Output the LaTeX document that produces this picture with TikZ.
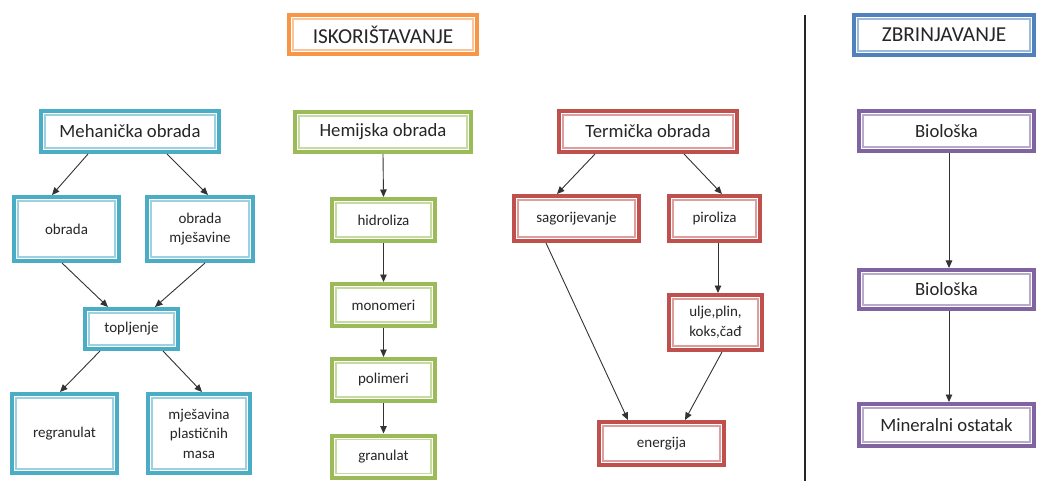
\documentclass[tikz,border=0pt]{standalone}
\usepackage{fontspec}
\setmainfont{Carlito}
\usetikzlibrary{arrows.meta,positioning}

\definecolor{tirkiz}{HTML}{4BACC6}
\definecolor{zelena}{HTML}{9BBB59}
\definecolor{crvena}{HTML}{C0504D}
\definecolor{ljubicasta}{HTML}{8064A2}
\definecolor{narandzasta}{HTML}{F79646}
\definecolor{plava}{HTML}{4F81BD}
\definecolor{tekst}{HTML}{262626}

\tikzset{
  % debeli okvir s tankom svijetlom linijom iznutra
  okvir/.style={draw=#1, line width=4pt, fill=white, inner sep=0pt, align=center, text=tekst,
    path picture={\draw[#1!55, line width=1.4pt]
      ([shift={(3.9pt,-3.9pt)}]path picture bounding box.north west) rectangle
      ([shift={(-3.9pt,3.9pt)}]path picture bounding box.south east);}},
  naslov/.style={font=\fontsize{21.3}{24}\selectfont},
  velik/.style={font=\fontsize{18.7}{22}\selectfont},
  mali/.style={font=\fontsize{15}{19.5}\selectfont},
  veza/.style={-{Triangle[length=7.5pt,width=6.5pt]}, draw=black!80, line width=0.9pt},
}

\begin{document}
\begin{tikzpicture}[x=1pt, y=-1pt]
  \useasboundingbox (0,0) rectangle (1039,481);

  % naslovi
  \node[okvir=narandzasta, naslov, minimum width=188pt, minimum height=39pt] (iskor) at (383,34.5) {ISKORIŠTAVANJE};
  \node[okvir=plava, naslov, minimum width=180pt, minimum height=40pt] (zbrin) at (944,35) {ZBRINJAVANJE};
  \draw[line width=1.8pt, black!85] (805,15) -- (805,481);

  % mehanička obrada
  \node[okvir=tirkiz, velik, minimum width=178pt, minimum height=41pt] (mehan) at (130,131.5) {Mehanička obrada};
  \node[okvir=tirkiz, mali, minimum width=105pt, minimum height=64pt] (obr) at (66.5,229) {obrada};
  \node[okvir=tirkiz, mali, minimum width=106pt, minimum height=64pt] (obrmj) at (200,229) {obrada\\mješavine};
  \node[okvir=tirkiz, mali, minimum width=93pt, minimum height=40pt] (toplj) at (131.5,329) {topljenje};
  \node[okvir=tirkiz, mali, minimum width=105pt, minimum height=79pt] (regran) at (64.5,433.5) {regranulat};
  \node[okvir=tirkiz, mali, minimum width=102pt, minimum height=79pt] (mjes) at (199,433.5) {mješavina\\plastičnih\\masa};

  \draw[veza] ([xshift=-42pt]mehan.south) -- ([xshift=-14.5pt]obr.north);
  \draw[veza] ([xshift=37pt]mehan.south) -- ([xshift=8pt]obrmj.north);
  \draw[veza] ([xshift=-4.5pt]obr.south) -- ([xshift=-23.5pt]toplj.north);
  \draw[veza] ([xshift=5pt]obrmj.south) -- ([xshift=23.5pt]toplj.north);
  \draw[veza] ([xshift=-31.5pt]toplj.south) -- ([xshift=-4.5pt]regran.north);
  \draw[veza] ([xshift=31.5pt]toplj.south) -- ([xshift=3pt]mjes.north);

  % hemijska obrada
  \node[okvir=zelena, velik, minimum width=176pt, minimum height=40pt] (hemij) at (383,132) {Hemijska obrada};
  \node[okvir=zelena, mali, minimum width=103pt, minimum height=42pt] (hidro) at (383.5,220) {hidroliza};
  \node[okvir=zelena, mali, minimum width=103pt, minimum height=42pt] (mono) at (383.5,305) {monomeri};
  \node[okvir=zelena, mali, minimum width=103pt, minimum height=42pt] (poli) at (383.5,380) {polimeri};
  \node[okvir=zelena, mali, minimum width=103pt, minimum height=42pt] (gran) at (383.5,456.5) {granulat};

  \draw[veza] (hemij.south) -- (hidro.north);
  \draw[veza] (hidro.south) -- (mono.north);
  \draw[veza] (mono.south) -- (poli.north);
  \draw[veza] (poli.south) -- (gran.north);

  % termička obrada
  \node[okvir=crvena, velik, minimum width=178pt, minimum height=41pt] (termi) at (648,131.5) {Termička obrada};
  \node[okvir=crvena, mali, minimum width=125pt, minimum height=45pt] (sagor) at (576.5,218.5) {sagorijevanje};
  \node[okvir=crvena, mali, minimum width=91pt, minimum height=45pt] (pirol) at (714.5,218.5) {piroliza};
  \node[okvir=crvena, mali, minimum width=93pt, minimum height=55pt] (ulje) at (715.5,322.5) {ulje,plin,\\koks,čađ};
  \node[okvir=crvena, mali, minimum width=125pt, minimum height=43pt] (energ) at (661.5,443.5) {energija};

  \draw[veza] ([xshift=-53pt]termi.south) -- ([xshift=-19.5pt]sagor.north);
  \draw[veza] ([xshift=36pt]termi.south) -- ([xshift=7.5pt]pirol.north);
  \draw[veza] ([xshift=3.5pt]pirol.south) -- ([xshift=2.5pt]ulje.north);
  \draw[veza] ([xshift=-30.5pt]sagor.south) -- ([xshift=-33.5pt]energ.north);
  \draw[veza] ([xshift=6.5pt]ulje.south) -- ([xshift=23.5pt]energ.north);

  % zbrinjavanje
  \node[okvir=ljubicasta, velik, minimum width=175pt, minimum height=40pt] (bio) at (946.5,131) {Biološka};
  \node[okvir=ljubicasta, velik, minimum width=175pt, minimum height=39pt] (bio2) at (946.5,289.5) {Biološka};
  \node[okvir=ljubicasta, velik, minimum width=175pt, minimum height=42pt] (miner) at (946.5,425) {Mineralni ostatak};

  \draw[veza] ([xshift=2.5pt]bio.south) -- ([xshift=2.5pt]bio2.north);
  \draw[veza] ([xshift=2.5pt]bio2.south) -- ([xshift=2.5pt]miner.north);
\end{tikzpicture}
\end{document}
